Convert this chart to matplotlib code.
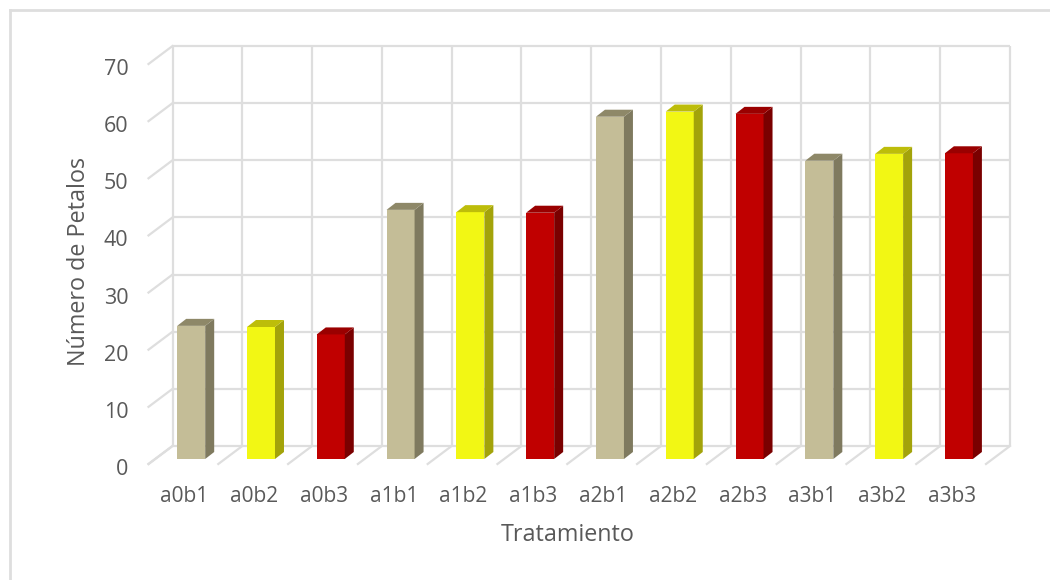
import matplotlib
matplotlib.use("Agg")
import matplotlib.pyplot as plt
from matplotlib.patches import Polygon
from matplotlib.transforms import ScaledTranslation

categories = ["a0b1", "a0b2", "a0b3", "a1b1", "a1b2", "a1b3",
              "a2b1", "a2b2", "a2b3", "a3b1", "a3b2", "a3b3"]
values = [23.3, 23.1, 21.8, 43.6, 43.2, 43.1, 59.9, 60.8, 60.4, 52.2, 53.4, 53.5]
yticks = [0, 10, 20, 30, 40, 50, 60, 70]
x_title = "Tratamiento"
y_title = "Número de Petalos"

front_colors = ["#C4BD97", "#F2F714", "#C00000"]
side_colors = ["#7F7A5F", "#A3A30A", "#7A0000"]
top_colors = ["#8E8868", "#BDBD0A", "#9A0000"]

W, H = 1050, 580
plt.rcParams["font.family"] = ["Open Sans", "DejaVu Sans"]
fig = plt.figure(figsize=(W / 100, H / 100), dpi=100)
fig.patch.set_facecolor("white")

L, R, T, B = 172.5, 1010, 46, 446
ax = fig.add_axes([L / W, 1 - B / H, (R - L) / W, (B - T) / H])
ax.set_xlim(-0.5, 11.5)
ax.set_ylim(0, 70)
ax.patch.set_alpha(0)
for s in ax.spines.values():
    s.set_visible(False)

px = (R - L) / 12
py = (B - T) / 70
dx, dy = -24 / px, -18 / py          # full depth of the floor, in data units
grid = "#DEDEDE"
line_w = 1.6

# back wall and side wall
for v in yticks:
    ax.plot([-0.5, 11.5], [v, v], color=grid, lw=line_w, zorder=1, clip_on=False, solid_capstyle="butt")
    ax.plot([-0.5, -0.5 + dx], [v, v + dy], color=grid, lw=line_w, zorder=1, clip_on=False)
for i in range(13):
    x = i - 0.5
    ax.plot([x, x], [0, 70], color=grid, lw=line_w, zorder=1, clip_on=False, solid_capstyle="butt")
    ax.plot([x, x + dx], [0, dy], color=grid, lw=line_w, zorder=1, clip_on=False)

# bars: front face position and extrusion within the floor depth
width = 28 / px
f_dx, f_dy = -16.2 / px, -13 / py
s_dx, s_dy = 9 / px, 7 / py
for i, v in enumerate(values):
    c = i % 3
    x0 = i + f_dx - width / 2
    x1 = x0 + width
    y0 = f_dy
    y1 = f_dy + v
    ax.bar(x0 + width / 2, v, width=width, bottom=y0, color=front_colors[c], zorder=3, clip_on=False)
    ax.add_patch(Polygon([(x1, y0), (x1 + s_dx, y0 + s_dy), (x1 + s_dx, y1 + s_dy), (x1, y1)],
                         closed=True, fc=side_colors[c], ec="none", zorder=3, clip_on=False))
    ax.add_patch(Polygon([(x0, y1), (x0 + s_dx, y1 + s_dy), (x1 + s_dx, y1 + s_dy), (x1, y1)],
                         closed=True, fc=top_colors[c], ec="none", zorder=3, clip_on=False))

# tick labels
txt = "#595959"
ax.set_yticks(yticks)
ax.set_xticks(range(12))
ax.set_xticklabels(categories)
ax.tick_params(axis="y", length=0, pad=44 * 0.72, labelsize=15.5, labelcolor=txt)
ax.tick_params(axis="x", length=0, pad=40 * 0.72, labelsize=15, labelcolor=txt)
for t in ax.get_yticklabels():
    t.set_transform(t.get_transform() + ScaledTranslation(0, -21 / 100, fig.dpi_scale_trans))
for t in ax.get_xticklabels():
    t.set_transform(t.get_transform() + ScaledTranslation(-23 / 100, 0, fig.dpi_scale_trans))

# axis titles
fig.text(79 / W, 1 - 262 / H, y_title, rotation=90, ha="center", va="center", fontsize=16.8, color=txt)
fig.text(568 / W, 1 - 535 / H, x_title, ha="center", va="center", fontsize=16.8, color=txt)

# chart frame
fig.add_artist(plt.Line2D([10 / W, 10 / W], [0, 1 - 10 / H], color=grid, lw=2))
fig.add_artist(plt.Line2D([10 / W, 1], [1 - 10 / H, 1 - 10 / H], color=grid, lw=2))

fig.savefig("out.png", dpi=100)
